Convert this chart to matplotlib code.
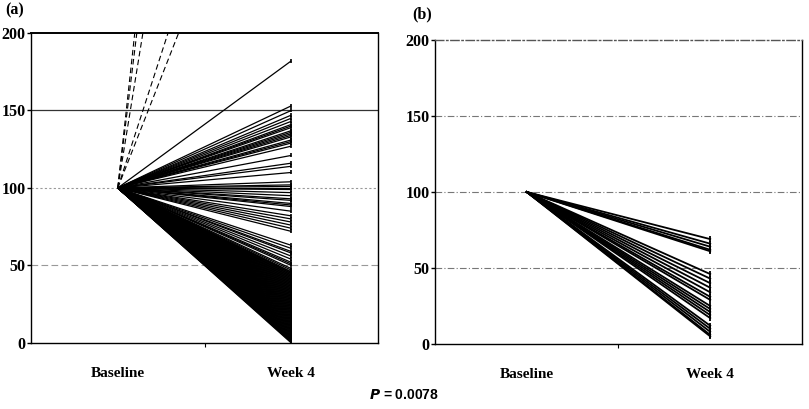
import numpy as np
import matplotlib.pyplot as plt

plt.rcParams['font.family'] = ['Liberation Serif', 'DejaVu Serif']

#%% data (percent of baseline)

timepoints = ['Baseline', 'Week 4']
baseline = 100

# panel (a): solid lines, week 4 values
week4_a = [182, 153, 150, 147, 145, 143, 141, 140, 139, 137, 136, 135, 134, 133, 131,
           130, 129, 127, 121, 116, 114, 110, 104, 102, 101, 100, 99, 97, 95, 93, 92,
           90, 89, 88, 85, 82, 80, 78, 76, 74, 72, 63, 61, 59, 58, 56, 54, 52, 51, 50,
           48, 47, 46, 45.5, 45, 44.5, 44, 43.5, 43, 42.5, 42, 41.5, 41, 40.5, 40, 39.5,
           39, 38.5, 38, 37.5, 37, 36.5, 36, 35.5, 35, 34.5, 34, 33.5, 33, 32.5, 32,
           31.5, 31, 30.5, 30, 29.5, 29, 28.5, 28, 27.5, 27, 26.5, 26, 25.5, 25, 24.5,
           24, 23.5, 23, 22.5, 22, 21.5, 21, 20.5, 20, 19.5, 19, 18.5, 18, 17.5, 17,
           16.5, 16, 15.5, 15, 14.5, 14, 13.5, 13, 12.5, 12, 11.5, 11, 10.5, 10, 9.5,
           9, 8.5, 8, 7.5, 7, 6.5, 6, 5.5, 5, 4.5, 4, 3.5, 3, 2.5, 2, 1.5, 1, 0.5, 0]
# panel (a): dashed lines that run off the top of the axis
week4_a_off = [1120, 1010, 790, 445, 385]

# panel (b): week 4 values
week4_b = [69, 66, 64, 62, 61, 46, 43, 40, 37, 34, 31, 29, 25, 23, 21, 19, 17,
           12, 10, 8, 6, 5]

yticks = [0, 50, 100, 150, 200]

#%% plot

fig = plt.figure(figsize=(8.09, 4.09), dpi=100)
ax_a = fig.add_axes([0.0383, 0.1614, 0.429, 0.758])
ax_b = fig.add_axes([0.5377, 0.159, 0.4536, 0.743])

x = [0, 1]

for v in week4_a:
    ax_a.plot(x, [baseline, v], color='black', lw=0.9, solid_capstyle='butt')
for v in week4_a_off:
    ax_a.plot(x, [baseline, v], color='black', lw=0.8, ls=(0, (5, 3)))
ax_a.scatter(np.ones(len(week4_a)), week4_a, marker='|', s=12, color='black', lw=1.2, zorder=3)

for v in week4_b:
    ax_b.plot(x, [baseline, v], color='black', lw=1.3)
ax_b.scatter(np.ones(len(week4_b)), week4_b, marker='|', s=20, color='black', lw=1.3, zorder=3)

for ax in (ax_a, ax_b):
    ax.set_xlim(-0.5, 1.5)
    ax.set_ylim(0, 200)
    ax.set_yticks(yticks)
    ax.set_yticklabels([str(t) for t in yticks], fontweight='bold', fontsize=11.5)
    ax.set_xticks([0, 1])
    ax.set_xticklabels(timepoints, fontweight='bold', fontsize=11)
    ax.tick_params(axis='x', length=0, pad=17)
    ax.tick_params(axis='y', length=3, width=1, pad=1)
    ax.set_xticks([0.5], minor=True)
    ax.tick_params(axis='x', which='minor', length=3, width=0.8, direction='out')
    for s in ax.spines.values():
        s.set_linewidth(1.0)

# grid lines
ax_a.axhline(150, color='#333333', lw=0.9, zorder=0)
ax_a.axhline(100, color='#999999', lw=0.8, ls=(0, (2, 2)), zorder=0)
ax_a.axhline(50, color='#999999', lw=0.8, ls=(0, (6, 3)), zorder=0)
for y in (50, 100, 150):
    ax_b.axhline(y, color='#777777', lw=0.8, ls=(0, (6, 2, 1, 2)), zorder=0)

ax_a.spines['top'].set_linewidth(1.4)
ax_b.spines['top'].set_linestyle((0, (6, 2, 1, 2)))
ax_b.spines['top'].set_color('#555555')

fig.text(0.006, 0.975, '(a)', fontweight='bold', fontsize=11.5, va='center')
fig.text(0.51, 0.966, '(b)', fontweight='bold', fontsize=11.5, va='center')

fig.text(0.5, 0.034, r'$\boldsymbol{P}$ = 0.0078', fontsize=10, fontweight='bold',
         ha='center', va='center', family=['Liberation Sans', 'DejaVu Sans'])

fig.savefig('out.png', dpi=100)
